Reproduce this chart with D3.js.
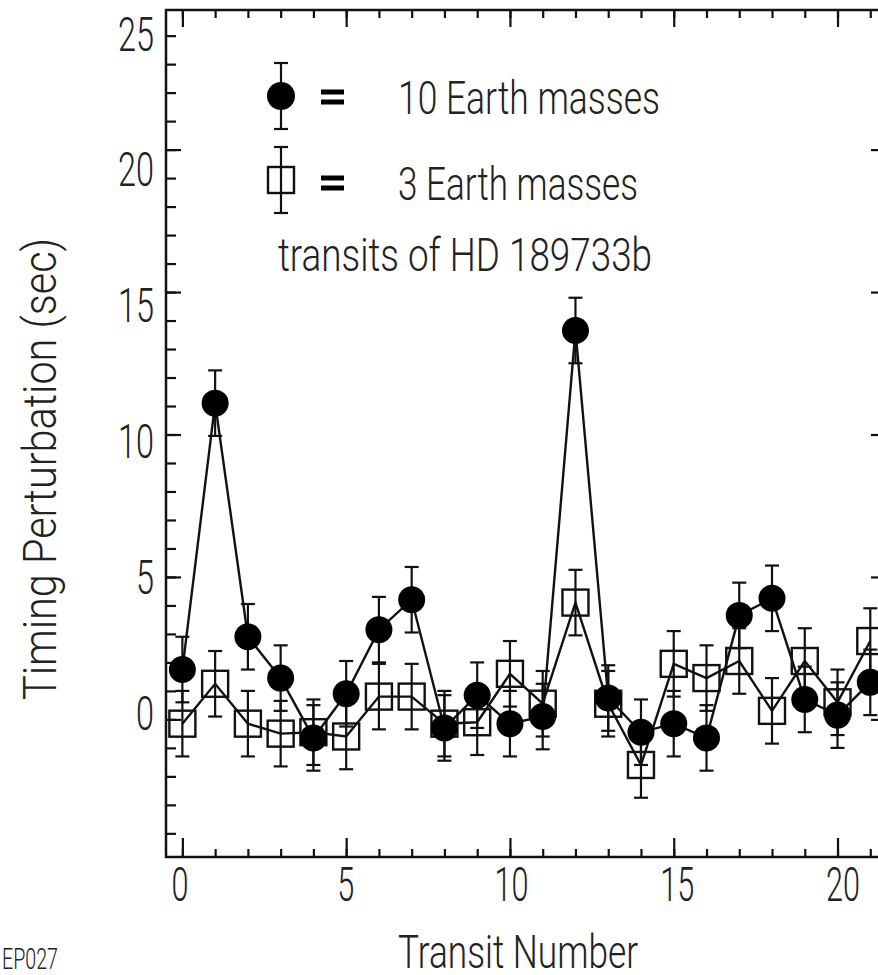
<!DOCTYPE html>
<html>
<head>
<meta charset="utf-8">
<script src="https://cdn.jsdelivr.net/npm/d3@7"></script>
<style>
  body { margin: 0; background: #fff; }
  svg { display: block; }
  text { font-family: "Roboto", "Liberation Sans", sans-serif; font-weight: 300; fill: #222; }
</style>
</head>
<body>
<svg id="chart" width="878" height="975"></svg>
<script>
// Transit timing perturbations, HD 189733b
const transits = [0, 1, 2, 3, 4, 5, 6, 7, 8, 9, 10, 11, 12, 13, 14, 15, 16, 17, 18, 19, 20, 21];
const mass10 = [1.75, 11.1, 2.9, 1.45, -0.65, 0.9, 3.15, 4.2, -0.3, 0.85, -0.15, 0.1, 13.65, 0.75, -0.45, -0.15, -0.65, 3.65, 4.25, 0.7, 0.15, 1.3];
const mass3 = [-0.15, 1.25, -0.15, -0.5, -0.45, -0.6, 0.8, 0.8, -0.15, -0.1, 1.6, 0.55, 4.1, 0.55, -1.6, 1.95, 1.45, 2.05, 0.3, 2.05, 0.6, 2.75];
const sigma = 1.15;
const xTickLabels = [0, 5, 10, 15, 20];
const yTickLabels = [0, 5, 10, 15, 20, 25];
const xMinor = [0, 1, 2, 3, 4, 5, 6, 7, 8, 9, 10, 11, 12, 13, 14, 15, 16, 17, 18, 19, 20, 21];
const yMinor = [-4, -3, -2, -1, 0, 1, 2, 3, 4, 5, 6, 7, 8, 9, 10, 11, 12, 13, 14, 15, 16, 17, 18, 19, 20, 21, 22, 23, 24];
const yMajor = [0, 5, 10, 15, 20];

const svg = d3.select('#chart');

const x = d3.scaleLinear().domain([-0.5, 21.48]).range([166, 886]);
const y = d3.scaleLinear().domain([-4.83, 24.9]).range([857, 10]);
// the scanned labels sit on a slightly different spacing than the ticks
const xLab = d3.scaleLinear().domain([0, 20]).range([180, 843]);
const yLab = d3.scaleLinear().domain([0, 25]).range([712, 33]);

const [x0, x1] = x.range();
const [y0, y1] = y.range();

// frame
svg.append('rect')
  .attr('x', x0).attr('y', y1)
  .attr('width', x1 - x0).attr('height', y0 - y1)
  .attr('fill', 'none').attr('stroke', '#111').attr('stroke-width', 2.5);

function tickAxis(axis, transform, size, values) {
  const g = svg.append('g')
    .attr('transform', transform)
    .call(axis.tickValues(values).tickSize(size).tickSizeOuter(0).tickFormat(''));
  g.select('.domain').remove();
  g.selectAll('line').attr('stroke', '#111').attr('stroke-width', 2.2);
  return g;
}

// left
tickAxis(d3.axisLeft(y), `translate(${x0},0)`, -10, yMinor);
tickAxis(d3.axisLeft(y), `translate(${x0},0)`, -15, yMajor);
// right
tickAxis(d3.axisRight(y), `translate(${x1},0)`, -15, yMajor);
// bottom
tickAxis(d3.axisBottom(x), `translate(0,${y0})`, -8, xMinor);
tickAxis(d3.axisBottom(x), `translate(0,${y0})`, -19, xTickLabels);
// top
tickAxis(d3.axisTop(x), `translate(0,${y1})`, -8, xMinor);
tickAxis(d3.axisTop(x), `translate(0,${y1})`, -17, xTickLabels);

// tick labels
svg.append('g').selectAll('text')
  .data(yTickLabels)
  .enter()
  .append('text')
  .attr('x', 154)
  .attr('y', d => yLab(d))
  .attr('dy', '0.36em')
  .attr('text-anchor', 'end')
  .attr('font-size', 49)
  .attr('textLength', d => String(d).length * 18)
  .attr('lengthAdjust', 'spacingAndGlyphs')
  .text(d => d);

svg.append('g').selectAll('text')
  .data(xTickLabels)
  .enter()
  .append('text')
  .attr('x', d => xLab(d))
  .attr('y', 901)
  .attr('text-anchor', 'middle')
  .attr('font-size', 49)
  .attr('textLength', d => String(d).length * 17)
  .attr('lengthAdjust', 'spacingAndGlyphs')
  .text(d => d);

// axis titles
svg.append('text')
  .attr('x', 398).attr('y', 968)
  .attr('font-size', 46)
  .attr('textLength', 240)
  .attr('lengthAdjust', 'spacingAndGlyphs')
  .text('Transit Number');

svg.append('text')
  .attr('transform', 'translate(56,700) rotate(-90)')
  .attr('font-size', 47)
  .attr('textLength', 462)
  .attr('lengthAdjust', 'spacingAndGlyphs')
  .text('Timing Perturbation (sec)');

svg.append('text')
  .attr('x', 2).attr('y', 969)
  .attr('font-size', 29)
  .attr('textLength', 56)
  .attr('lengthAdjust', 'spacingAndGlyphs')
  .text('EP027');

// series
const series = [
  { name: '10 Earth masses', values: mass10, filled: true },
  { name: '3 Earth masses', values: mass3, filled: false }
];

const line = d3.line().x(d => x(d[0])).y(d => y(d[1]));

series.forEach(s => {
  const pts = transits.map((t, i) => [t, s.values[i]]);

  svg.append('path')
    .datum(pts)
    .attr('d', line)
    .attr('fill', 'none')
    .attr('stroke', '#111')
    .attr('stroke-width', 2.4);

  const eb = svg.append('g').attr('stroke', '#111').attr('stroke-width', 2.2);
  eb.selectAll('.v').data(pts).enter().append('line')
    .attr('x1', d => x(d[0])).attr('x2', d => x(d[0]))
    .attr('y1', d => y(d[1] - sigma)).attr('y2', d => y(d[1] + sigma));
  [1, -1].forEach(sign => {
    eb.selectAll('.cap' + sign).data(pts).enter().append('line')
      .attr('x1', d => x(d[0]) - 7).attr('x2', d => x(d[0]) + 7)
      .attr('y1', d => y(d[1] + sign * sigma)).attr('y2', d => y(d[1] + sign * sigma));
  });
});

// markers: squares first, filled circles on top
svg.append('g').selectAll('rect')
  .data(transits.map((t, i) => [t, mass3[i]]))
  .enter()
  .append('rect')
  .attr('x', d => x(d[0]) - 13)
  .attr('y', d => y(d[1]) - 13)
  .attr('width', 26).attr('height', 26)
  .attr('fill', 'none')
  .attr('stroke', '#111')
  .attr('stroke-width', 2.4);

svg.append('g').selectAll('circle')
  .data(transits.map((t, i) => [t, mass10[i]]))
  .enter()
  .append('circle')
  .attr('cx', d => x(d[0]))
  .attr('cy', d => y(d[1]))
  .attr('r', 13.5)
  .attr('fill', '#000');

// legend
const legend = svg.append('g');
function legendErr(cx, cy) {
  legend.append('line').attr('x1', cx).attr('x2', cx).attr('y1', cy - 33).attr('y2', cy + 33)
    .attr('stroke', '#111').attr('stroke-width', 2.2);
  [-33, 33].forEach(o => legend.append('line')
    .attr('x1', cx - 7).attr('x2', cx + 7).attr('y1', cy + o).attr('y2', cy + o)
    .attr('stroke', '#111').attr('stroke-width', 2.2));
}
function equals(cy) {
  [-5, 5].forEach(o => legend.append('rect')
    .attr('x', 321).attr('y', cy + o - 2.5).attr('width', 23).attr('height', 5).attr('fill', '#000'));
}
legendErr(281, 96);
legend.append('circle').attr('cx', 281).attr('cy', 96).attr('r', 14).attr('fill', '#000');
equals(97);
legend.append('text').attr('x', 398).attr('y', 114)
  .attr('font-size', 47).attr('textLength', 262).attr('lengthAdjust', 'spacingAndGlyphs')
  .text(series[0].name);

legendErr(281, 180);
legend.append('rect').attr('x', 268).attr('y', 167).attr('width', 26).attr('height', 26)
  .attr('fill', 'none').attr('stroke', '#111').attr('stroke-width', 2.4);
equals(183);
legend.append('text').attr('x', 398).attr('y', 200)
  .attr('font-size', 47).attr('textLength', 240).attr('lengthAdjust', 'spacingAndGlyphs')
  .text(series[1].name);

legend.append('text').attr('x', 278).attr('y', 271)
  .attr('font-size', 47).attr('textLength', 374).attr('lengthAdjust', 'spacingAndGlyphs')
  .text('transits of HD 189733b');
</script>
</body>
</html>
